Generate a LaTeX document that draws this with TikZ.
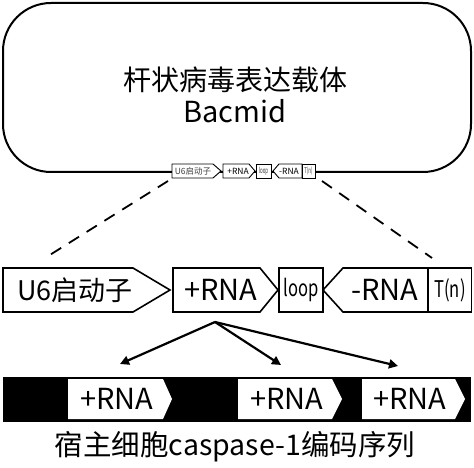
\documentclass[tikz,border=0pt]{standalone}
\usepackage{fontspec}
\setmainfont{Noto Sans CJK SC}
\usetikzlibrary{arrows.meta}
\begin{document}
\begin{tikzpicture}[x=1pt,y=-1pt, line join=miter]
\tikzset{
 box/.style={draw=black, line width=1.6pt, fill=white},
 sbox/.style={draw=black, line width=0.9pt, fill=white},
 lbl/.style={inner sep=0pt, font=\fontsize{29}{29}\selectfont},
 cjklbl/.style={inner sep=0pt, font=\fontsize{27}{27}\selectfont},
 narrow/.style={inner sep=0pt, font=\fontsize{23}{23}\selectfont, xscale=0.72},
 slbl/.style={inner sep=0pt, font=\fontsize{8.5}{8.5}\selectfont, text=black!75},
 snarrow/.style={inner sep=0pt, font=\fontsize{8}{8}\selectfont, xscale=0.55, text=black!75},
 dashline/.style={line width=1.8pt, dash pattern=on 12pt off 9pt},
 arr/.style={line width=2.2pt, -{Triangle[length=9pt,width=9pt]}},
}
\useasboundingbox (0,0) rectangle (474,468);
% vector
\draw[line width=2pt, rounded corners=48pt] (3,3) rectangle (471,172);
\node[inner sep=0pt, font=\fontsize{28}{28}\selectfont] (title) at (235,80) {杆状病毒表达载体};
\node[inner sep=0pt, font=\fontsize{29}{29}\selectfont] (bacmid) at (235,111) {Bacmid};
% small construct
\draw[sbox] (172,164) -- (213,164) -- (221,171) -- (213,178) -- (172,178) -- cycle;
\draw[sbox] (223,164) -- (249,164) -- (255,171) -- (249,178) -- (223,178) -- cycle;
\draw[sbox] (256,164) rectangle (271,178);
\draw[sbox] (273,171) -- (279,164) -- (302,164) -- (302,178) -- (279,178) -- cycle;
\draw[sbox] (302,164) rectangle (315,178);
\node[slbl] (su6) at (193,171) {U6启动子};
\node[slbl, text=black] (srna) at (238,171) {+RNA};
\node[snarrow] (sloop) at (263.5,171) {loop};
\node[slbl, text=black] (smrna) at (289,171) {-RNA};
\node[snarrow] (stn) at (308.5,171) {T(n)};
\coordinate (sl) at (168,181);
\coordinate (sr) at (322,181);
% large construct
\coordinate (ll) at (45,258);
\coordinate (lr) at (432,258);
\draw[dashline] (sl) -- (ll);
\draw[dashline] (sr) -- (lr);
\draw[box] (3,268) -- (133,268) -- (170,290) -- (133,312) -- (3,312) -- cycle;
\draw[box] (173,268) -- (260,268) -- (278,290) -- (260,312) -- (173,312) -- cycle;
\draw[box] (279,268) rectangle (323,312);
\draw[box] (323,290) -- (343,268) -- (428,268) -- (428,312) -- (343,312) -- cycle;
\draw[box] (428,268) rectangle (471.5,312);
\node[cjklbl] (u6) at (75,290) {U6启动子};
\node[lbl] (rna) at (221,290) {+RNA};
\node[narrow] (loop) at (301,290) {loop};
\node[lbl] (mrna) at (385,290) {-RNA};
\node[narrow] (tn) at (450,290) {T(n)};
% arrows
\coordinate (src) at (215,322);
\coordinate (t1) at (120,364);
\coordinate (t2) at (281,365);
\coordinate (t3) at (398,366);
\draw[arr] (src) -- (t1);
\draw[arr] (src) -- (t2);
\draw[arr] (src) -- (t3);
% host sequence
\fill[black] (3,377) rectangle (471,422);
\fill[white] (68,379) -- (163,379) -- (172,399) -- (163,419) -- (68,419) -- cycle;
\fill[white] (238,379) -- (332,379) -- (342,399) -- (332,419) -- (238,419) -- cycle;
\fill[white] (362,379) -- (455,379) -- (465,399) -- (455,419) -- (362,419) -- cycle;
\node[lbl] (h1) at (117,399) {+RNA};
\node[lbl] (h2) at (287,399) {+RNA};
\node[lbl] (h3) at (410,399) {+RNA};
\node[inner sep=0pt, font=\fontsize{28.5}{28.5}\selectfont] (host) at (235,447) {宿主细胞caspase-1编码序列};
\end{tikzpicture}
\end{document}
